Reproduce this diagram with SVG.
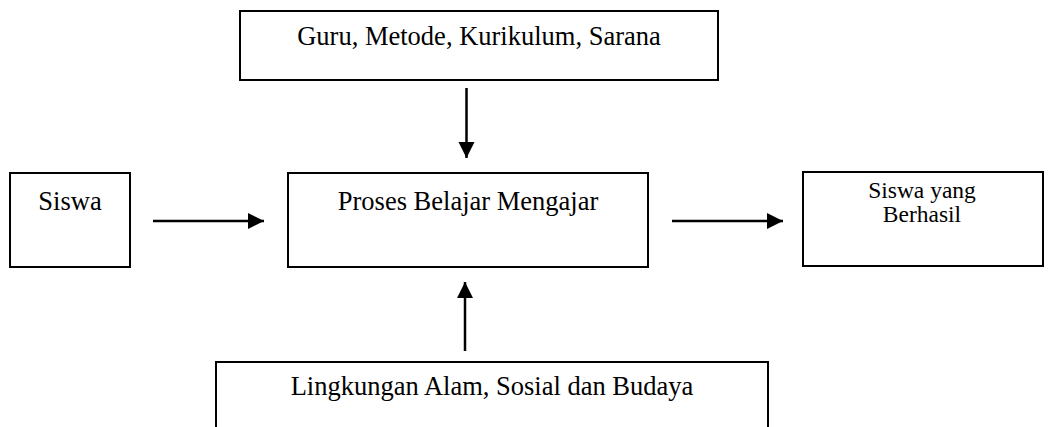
<svg xmlns="http://www.w3.org/2000/svg" width="1048" height="427" viewBox="0 0 1048 427">
  <defs>
    <style>
      .box { fill: #ffffff; stroke: #000000; stroke-width: 2; }
      .lbl { font-family: "Liberation Serif", "Times New Roman", serif; font-size: 26.5px; fill: #000000; text-anchor: middle; }
      .small { font-size: 23.5px; }
      .conn { stroke: #000000; stroke-width: 2.5; fill: none; marker-end: url(#arrow); }
    </style>
    <marker id="arrow" markerUnits="userSpaceOnUse" markerWidth="18" markerHeight="18" refX="16" refY="8" orient="auto">
      <path d="M0,0 L16,8 L0,16 Z" fill="#000000"/>
    </marker>
  </defs>
  <rect width="1048" height="427" fill="#ffffff"/>

  <g id="node-top">
    <rect class="box" x="240" y="11" width="478" height="69"/>
    <text class="lbl" x="479" y="45">Guru, Metode, Kurikulum, Sarana</text>
  </g>

  <g id="node-siswa">
    <rect class="box" x="10" y="173" width="120" height="94"/>
    <text class="lbl" x="70" y="210">Siswa</text>
  </g>

  <g id="node-proses">
    <rect class="box" x="288" y="173" width="360" height="94"/>
    <text class="lbl" x="468" y="210">Proses Belajar Mengajar</text>
  </g>

  <g id="node-hasil">
    <rect class="box" x="803" y="172" width="240" height="94"/>
    <text class="lbl small" x="922" y="198">Siswa yang</text>
    <text class="lbl small" x="922" y="222">Berhasil</text>
  </g>

  <g id="node-lingkungan">
    <rect class="box" x="216" y="362" width="552" height="80"/>
    <text class="lbl" x="492" y="395">Lingkungan Alam, Sosial dan Budaya</text>
  </g>

  <g id="connectors">
    <line class="conn" x1="466.5" y1="88" x2="466.5" y2="158"/>
    <line class="conn" x1="465" y1="351" x2="465" y2="282"/>
    <line class="conn" x1="153" y1="221" x2="264" y2="221"/>
    <line class="conn" x1="672" y1="221" x2="783" y2="221"/>
  </g>
</svg>
